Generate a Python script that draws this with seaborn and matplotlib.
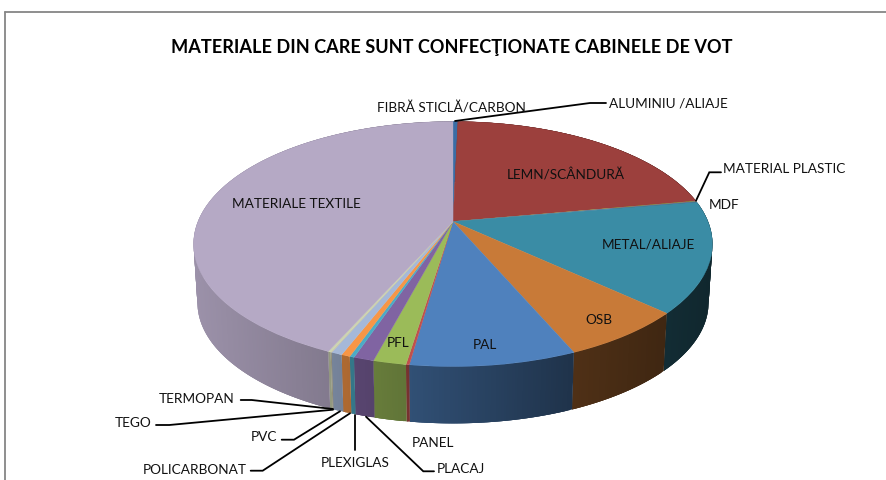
import numpy as np
import matplotlib
matplotlib.use("Agg")
import matplotlib.pyplot as plt
import seaborn as sns
from matplotlib.collections import PolyCollection
from matplotlib.colors import to_rgb
from matplotlib.lines import Line2D
from matplotlib.transforms import Transform

# ---- data
categories = ["ALUMINIU /ALIAJE", "FIBRĂ STICLĂ/CARBON", "LEMN/SCÂNDURĂ", "MATERIAL PLASTIC", "MDF",
              "METAL/ALIAJE", "OSB", "PAL", "PANEL", "PFL", "PLACAJ", "PLEXIGLAS", "POLICARBONAT",
              "PVC", "TEGO", "TERMOPAN", "MATERIALE TEXTILE"]
values = [0.36, 0.03, 21.75, 0.08, 0.08, 14.58, 6.67, 8.69, 0.17, 1.72, 1.06, 0.24, 0.46, 0.58, 0.06, 0.14, 43.33]
title_text = "MATERIALE DIN CARE SUNT CONFECŢIONATE CABINELE DE VOT"

# ---- styles
colors = ["#3A6DA5", "#9C403D", "#9C403D", "#8FA84F", "#7B6A9A", "#3A8CA5", "#C87A38", "#4F81BD", "#C0504D",
          "#9BBB59", "#8064A2", "#4BACC6", "#F79646", "#A5B8D8", "#C9C3A6", "#CCD5B0", "#B5A9C5"]
FONT = ["Lato", "DejaVu Sans"]
APEX = (453.0, 222.5)
A, B, K = 255.0, 118.4, 0.1837
DEPTH, SHRINK = 59.0, 0.985


class Projected(Transform):
    """Perspective view of the unit disc, in pixel-like axes coordinates."""
    input_dims = output_dims = 2

    def __init__(self, shrink=1.0, drop=0.0):
        super().__init__()
        self.shrink, self.drop = shrink, drop

    def transform_non_affine(self, pts):
        pts = np.asarray(pts, float)
        w = 1 + K * pts[:, 1]
        return np.column_stack([APEX[0] + self.shrink * A * pts[:, 0] / w,
                                APEX[1] - self.shrink * B * pts[:, 1] / w + self.drop])


sns.set_theme(style="white")
plt.rcParams["font.family"] = FONT
fig = plt.figure(figsize=(8.86, 4.81), dpi=100, facecolor="white")
ax = fig.add_axes([0, 0, 1, 1])

wedges, _ = ax.pie(values, colors=colors, startangle=90, counterclock=False,
                   wedgeprops=dict(linewidth=0.25))
ax.set_aspect("auto")
ax.set_xlim(0, 886)
ax.set_ylim(481, 0)
ax.axis("off")

top = Projected()
low = Projected(SHRINK, DEPTH)
for w, c in zip(wedges, colors):
    w.set_transform(top + ax.transData)
    w.set_edgecolor(c)
    w.set_zorder(3)

# side wall: overlapping strips across each slice, shaded from left to right
edges = np.concatenate([[0], np.cumsum(values)]) / np.sum(values) * 2 * np.pi
polys, fills = [], []
for i, c in enumerate(colors):
    n = max(2, int((edges[i + 1] - edges[i]) / np.radians(0.5)))
    th = np.linspace(edges[i], edges[i + 1], n + 1)
    xy = np.column_stack([np.sin(th), np.cos(th)])
    p, q = top.transform_non_affine(xy), low.transform_non_affine(xy)
    for j in range(n):
        e = min(j + 3, n)
        polys.append(np.vstack([p[j:e + 1], q[j:e + 1][::-1]]))
        f = np.interp(p[j, 0], [193, 330, 410, 570, 710], [0.86, 0.72, 0.62, 0.40, 0.28])
        fills.append(tuple(np.array(to_rgb(c)) * f))
ax.add_collection(PolyCollection(polys, facecolors=fills, edgecolors="none", linewidths=0, zorder=2))

# frame
for xs, ys in [((5.5, 5.5), (481, 12.5)), ((5.5, 886), (12.5, 12.5))]:
    ax.add_line(Line2D(xs, ys, color="#868686", lw=1.3, zorder=1))

# leader lines
leaders = [[(455, 122), (590, 104), (606, 104)],
           [(721, 173.3), (709.3, 173.3), (696, 201.7)],
           [(240.7, 401), (251.7, 401), (333, 410)],
           [(156, 426), (169.3, 426), (333, 410.7)],
           [(281.7, 440.7), (294, 440.7), (340, 412.3)],
           [(250.7, 471.7), (262.7, 471.7), (350, 414.3)],
           [(355, 450.7), (355, 415.7)],
           [(434, 472.3), (423.3, 472.3), (366, 417.7)]]
for pts in leaders:
    xs, ys = zip(*pts)
    ax.add_line(Line2D(xs, ys, color="black", lw=1.3, zorder=4, solid_joinstyle="miter"))

# labels: (left x, centre y)
label_pos = [(609, 103), (377, 108), (507, 175), (723, 169), (709, 205), (602, 245), (585, 320), (473, 345),
             (412, 443), (387, 343), (437, 469), (321, 463), (143, 470), (251, 437), (115, 423), (159, 399),
             (232, 204)]
for name, (x, y) in zip(categories, label_pos):
    ax.text(x, y, name, ha="left", va="center", fontsize=9.8, color="#111111", family=FONT, zorder=5)
ax.text(452, 47, title_text, ha="center", va="center", fontsize=13.05, fontweight="bold",
        color="black", family=FONT, zorder=5)

fig.savefig("out.png", dpi=100, facecolor="white")
